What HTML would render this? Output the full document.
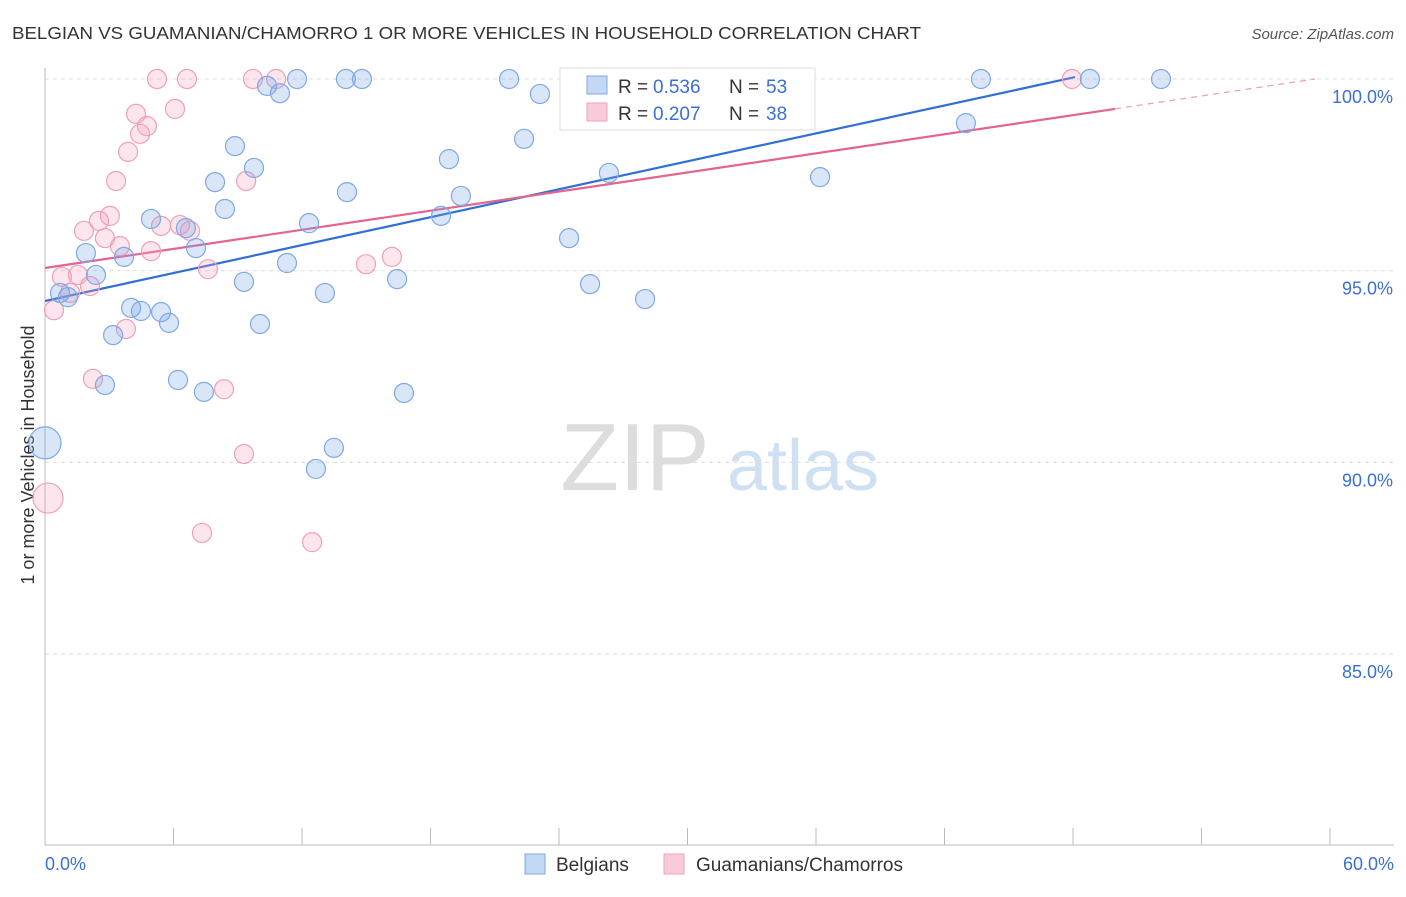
<!DOCTYPE html>
<html><head><meta charset="utf-8"><style>
body{margin:0;background:#fff;font-family:"Liberation Sans",sans-serif;}
svg text{font-family:"Liberation Sans",sans-serif;}
</style></head><body>
<svg id="chart" width="1406" height="892">
<text x="12" y="39" font-size="17.5" fill="#333" textLength="909" lengthAdjust="spacingAndGlyphs">BELGIAN VS GUAMANIAN/CHAMORRO 1 OR MORE VEHICLES IN HOUSEHOLD CORRELATION CHART</text>
<text x="1394" y="39" font-size="15" fill="#555" text-anchor="end" font-style="italic">Source: ZipAtlas.com</text>
<text x="34" y="455" font-size="18" fill="#333" text-anchor="middle" transform="rotate(-90 34 455)">1 or more Vehicles in Household</text>
<g><text x="635" y="490" font-size="96" fill="#ddd" font-family="Liberation Serif" text-anchor="middle">ZIP</text><text x="803" y="490" font-size="72" fill="#cfe0f3" text-anchor="middle">atlas</text></g>
<g id="grid"></g><g id="axes"></g><g id="lines"></g><g id="pts"></g>
<g>
<rect x="560" y="68" width="255" height="62" fill="#fff" stroke="#ddd"/>
<rect x="587" y="76" width="20" height="18" fill="#c3d8f5" stroke="#7fa8e6"/>
<rect x="587" y="103" width="20" height="18" fill="#f9cbd9" stroke="#eea0b8"/>
<text y="93" font-size="19" fill="#333"><tspan x="618">R =</tspan><tspan x="653" fill="#3a6fd8">0.536</tspan><tspan x="729">N =</tspan><tspan x="766" fill="#3a6fd8">53</tspan></text>
<text y="120" font-size="19" fill="#333"><tspan x="618">R =</tspan><tspan x="653" fill="#3a6fd8">0.207</tspan><tspan x="729">N =</tspan><tspan x="766" fill="#3a6fd8">38</tspan></text>
</g>
<g>
<rect x="525" y="854" width="20" height="20" fill="#c3d8f5" stroke="#7fa8e6"/>
<text x="556" y="871" font-size="19" fill="#333">Belgians</text>
<rect x="664" y="854" width="20" height="20" fill="#f9cbd9" stroke="#eea0b8"/>
<text x="696" y="871" font-size="19" fill="#333">Guamanians/Chamorros</text>
</g>
</svg>
<script>
const blueX=[0.70,1.07,1.91,2.38,2.80,3.18,3.69,4.02,4.48,4.95,5.42,5.79,6.21,6.58,7.05,7.42,7.94,8.40,8.87,9.29,9.76,10.04,10.37,10.97,11.30,11.77,12.33,12.65,13.07,13.49,14.10,14.05,14.80,16.44,16.76,18.49,18.86,19.42,21.67,22.37,23.11,24.47,25.45,26.33,28.02,36.19,43.00,43.70,48.79,52.11,0];
const blueY=[94.42,94.31,95.46,94.89,92.02,93.32,95.36,94.03,93.95,96.35,93.92,93.64,92.15,96.11,95.59,91.84,97.31,96.61,98.25,94.71,97.68,93.61,99.82,99.63,95.20,100,96.24,89.83,94.42,90.38,97.05,100,100,94.78,91.81,96.43,97.91,96.95,100,98.44,99.61,95.85,94.65,97.55,94.26,97.44,98.85,100,100,100,90.51];
const pinkX=[0.14,0.42,0.79,1.17,1.54,1.82,2.10,2.24,2.52,2.80,3.03,3.32,3.50,3.78,3.88,4.25,4.44,4.76,4.95,5.23,5.42,6.07,6.30,6.63,6.77,7.33,7.61,8.36,9.29,9.39,9.71,10.79,12.47,14.99,16.20,47.95];
const pinkY=[89.07,93.97,94.84,94.42,94.89,96.04,94.60,92.18,96.30,95.85,96.43,97.34,95.64,93.48,98.10,99.09,98.57,98.77,95.51,100,96.17,99.22,96.19,100,96.04,88.16,95.04,91.91,90.22,97.34,100,100,87.92,95.17,95.36,100];
const yTicks=[100,95,90,85];
const xTickLabels=["0.0%","60.0%"];
const blueTrend=[94.21,100.05], blueTrendX=[0,48.1];
const pinkTrend=[95.07,99.22,100], pinkTrendX=[0,49.96,59.3];
const X=v=>45+v*1285/60, Y=v=>79+(100-v)*38.34;
const NS="http://www.w3.org/2000/svg";
function mk(p,t,a){const e=document.createElementNS(NS,t);for(const k in a)e.setAttribute(k,a[k]);document.getElementById(p).appendChild(e);return e;}
yTicks.forEach(t=>{
 const l=mk('grid','line',{x1:45,x2:1394,y1:Y(t),y2:Y(t),stroke:'#ddd','stroke-dasharray':'4,4'});
 
 
 const tx=mk('grid','text',{x:1393,y:Y(t)+24,'font-size':18,fill:'#3a6fd8','text-anchor':'end'});
 tx.textContent=t.toFixed(1)+'%';
 
 
});
mk('axes','line',{x1:45,x2:45,y1:68,y2:845,stroke:'#bbb'});
mk('axes','line',{x1:45,x2:1394,y1:845,y2:845,stroke:'#bbb'});
for(let i=0;i<=10;i++){const t=mk('axes','line',{x1:X(i*6),x2:X(i*6),y1:828,y2:845,stroke:'#bbb'});
 
 }
[[0,'start',45],[60,'end',1394]].forEach((d,i)=>{const t=mk('axes','text',{x:d[2],y:870,'font-size':18,fill:'#3a6fd8','text-anchor':d[1]});t.textContent=xTickLabels[i];
 
 });
const bl=mk('lines','line',{x1:X(blueTrendX[0]),y1:Y(blueTrend[0]),x2:X(blueTrendX[1]),y2:Y(blueTrend[1]),stroke:'#2f6fd6','stroke-width':2.2});


const pl=mk('lines','line',{x1:X(pinkTrendX[0]),y1:Y(pinkTrend[0]),x2:X(pinkTrendX[1]),y2:Y(pinkTrend[1]),stroke:'#e3648f','stroke-width':2.2});


const pd=mk('lines','line',{x1:X(pinkTrendX[1]),y1:Y(pinkTrend[1]),x2:X(pinkTrendX[2]),y2:Y(pinkTrend[2]),stroke:'#eea0b8','stroke-width':1.2,'stroke-dasharray':'6,5'});


pinkX.forEach((x,i)=>{const c=mk('pts','circle',{cx:X(x),cy:Y(pinkY[i]),r:i==0?15:9.5,fill:'rgba(244,160,188,0.28)',stroke:'#eea0b8','stroke-width':1.2});
 
 });
blueX.forEach((x,i)=>{const c=mk('pts','circle',{cx:X(x),cy:Y(blueY[i]),r:i==blueX.length-1?16:9.5,fill:'rgba(120,165,230,0.28)',stroke:'#7fa8e6','stroke-width':1.2});
 
 });
</script>
</body></html>
